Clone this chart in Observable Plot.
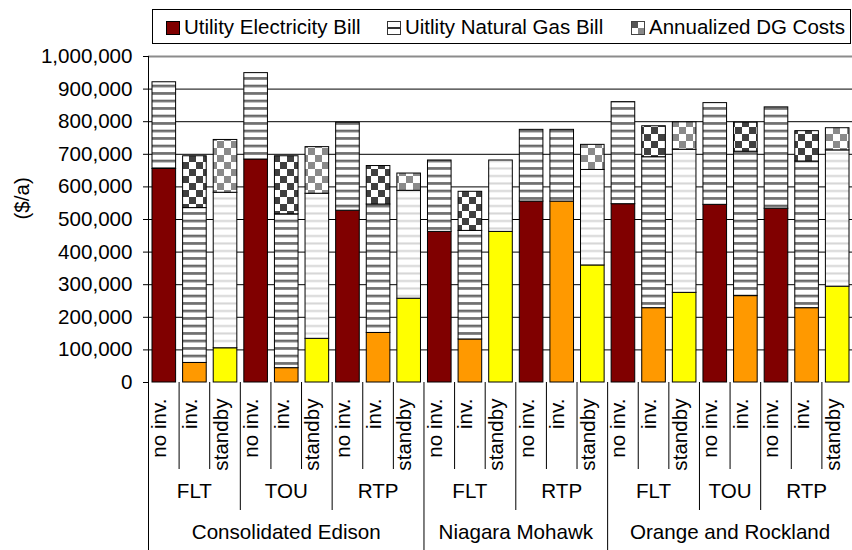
<!DOCTYPE html>
<html>
<head>
<meta charset="utf-8">
<script src="https://cdn.jsdelivr.net/npm/d3@7"></script>
<script src="https://cdn.jsdelivr.net/npm/@observablehq/plot@0.6"></script>
<style>
  html, body { margin: 0; padding: 0; background: #fff; }
  body { width: 852px; height: 550px; overflow: hidden; font-family: "Liberation Sans", Arial, sans-serif; color: #000; }
  #legend { position: relative; height: 50px; }
  #legend .box { position: absolute; left: 152px; top: 9px; width: 699px; height: 35px; box-sizing: border-box; border: 1px solid #000; }
  #legend .sw { position: absolute; top: 11px; display: block; }
  #legend .tx { position: absolute; top: 6.5px; font-size: 20.5px; line-height: 20.5px; white-space: nowrap; }
</style>
</head>
<body>
<svg width="0" height="0" style="position:absolute">
  <defs>
    <pattern id="gasDark" patternUnits="userSpaceOnUse" width="8" height="7.5">
      <rect width="8" height="7.5" fill="#fff"/>
      <rect y="5" width="8" height="1" fill="#111"/>
      <rect y="6" width="8" height="1.2" fill="#555"/>
    </pattern>
    <pattern id="gasLight" patternUnits="userSpaceOnUse" width="8" height="7.5">
      <rect width="8" height="7.5" fill="#fff"/>
      <rect y="5" width="8" height="2" fill="#d6d6d6"/>
    </pattern>
    <pattern id="dgDark" patternUnits="userSpaceOnUse" width="14" height="14">
      <rect width="14" height="14" fill="#fff"/>
      <rect width="7" height="7" fill="#404040"/>
      <rect x="7" y="7" width="7" height="7" fill="#404040"/>
    </pattern>
    <pattern id="dgLight" patternUnits="userSpaceOnUse" width="14" height="14">
      <rect width="14" height="14" fill="#fff"/>
      <rect width="7" height="7" fill="#8a8a8a"/>
      <rect x="7" y="7" width="7" height="7" fill="#8a8a8a"/>
    </pattern>
  </defs>
</svg>
<div id="legend">
  <div class="box">
    <svg class="sw" style="left:13px" width="14" height="14"><rect x="0.5" y="0.5" width="13" height="13" fill="#800000" stroke="#000"/></svg>
    <span class="tx" style="left:31px">Utility Electricity Bill</span>
    <svg class="sw" style="left:234px" width="14" height="14"><rect x="0.5" y="0.5" width="13" height="13" fill="#fff" stroke="#333"/><rect x="1" y="6" width="12" height="2" fill="#333"/></svg>
    <span class="tx" style="left:252px">Uitlity Natural Gas Bill</span>
    <svg class="sw" style="left:478px" width="14" height="14"><rect x="0.5" y="0.5" width="13" height="13" fill="#fff" stroke="#444"/><rect x="1" y="1" width="6" height="6" fill="#555"/><rect x="7" y="7" width="6" height="6" fill="#888"/></svg>
    <span class="tx" style="left:496px">Annualized DG Costs</span>
  </div>
</div>
<script>
// ---- data ----
const utilities = [
  "Consolidated Edison","Consolidated Edison","Consolidated Edison",
  "Consolidated Edison","Consolidated Edison","Consolidated Edison",
  "Consolidated Edison","Consolidated Edison","Consolidated Edison",
  "Niagara Mohawk","Niagara Mohawk","Niagara Mohawk",
  "Niagara Mohawk","Niagara Mohawk","Niagara Mohawk",
  "Orange and Rockland","Orange and Rockland","Orange and Rockland",
  "Orange and Rockland","Orange and Rockland",
  "Orange and Rockland","Orange and Rockland","Orange and Rockland"
];
const tariffs = [
  "FLT","FLT","FLT","TOU","TOU","TOU","RTP","RTP","RTP",
  "FLT","FLT","FLT","RTP","RTP","RTP",
  "FLT","FLT","FLT","TOU","TOU","RTP","RTP","RTP"
];
const options = [
  "no inv.","inv.","standby","no inv.","inv.","standby","no inv.","inv.","standby",
  "no inv.","inv.","standby","no inv.","inv.","standby",
  "no inv.","inv.","standby","no inv.","inv.","no inv.","inv.","standby"
];
const electricity = [
  655000, 60000, 105000, 684000, 44000, 134000, 527000, 152000, 257000,
  462000, 132000, 462000, 555000, 555000, 359000,
  547000, 228000, 275000, 545000, 265000, 533000, 228000, 294000
];
const naturalGas = [
  266000, 475000, 477000, 265000, 472000, 445000, 270000, 394000, 331000,
  219000, 333000, 219000, 220000, 220000, 293000,
  313000, 463000, 439000, 312000, 443000, 311000, 450000, 418000
];
const dgCosts = [
  0, 159000, 162000, 0, 178000, 143000, 0, 118000, 53000,
  0, 120000, 0, 0, 0, 77000,
  0, 95000, 84000, 0, 89000, 0, 93000, 68000
];
const yTicks = [0, 100000, 200000, 300000, 400000, 500000, 600000, 700000, 800000, 900000, 1000000];

// ---- styles ----
const elecFill = {"no inv.": "#800000", "inv.": "#FF9900", "standby": "#FFFF00"};
const gasFill = {"no inv.": "url(#gasDark)", "inv.": "url(#gasDark)", "standby": "url(#gasLight)"};
const dgFill = {"no inv.": "url(#dgDark)", "inv.": "url(#dgDark)", "standby": "url(#dgLight)"};
const dividerDepth = {1: 87, 2: 128, 3: 168};
const font = '"Liberation Sans", Arial, sans-serif';
const fs = 20.6;

// ---- derived tables ----
const n = options.length;
const bars = d3.range(n).map(i => ({i, utility: utilities[i], tariff: tariffs[i], option: options[i]}));
const segs = [];
for (const b of bars) {
  const e = electricity[b.i], g = naturalGas[b.i], c = dgCosts[b.i];
  segs.push({i: b.i, y1: 0, y2: e, fill: elecFill[b.option]});
  segs.push({i: b.i, y1: e, y2: e + g, fill: gasFill[b.option]});
  if (c > 0) segs.push({i: b.i, y1: e + g, y2: e + g + c, fill: dgFill[b.option]});
}
function runs(keyFn, labelFn) {
  const out = [];
  for (let i = 0; i < n; i++) {
    const k = keyFn(i);
    const last = out[out.length - 1];
    if (last && last.key === k) last.end = i + 1;
    else out.push({key: k, label: labelFn(i), start: i, end: i + 1});
  }
  return out;
}
const tariffRuns = runs(i => utilities[i] + "|" + tariffs[i], i => tariffs[i]);
const utilityRuns = runs(i => utilities[i], i => utilities[i]);
const dividers = d3.range(1, n + 1).map(b => ({
  x: b,
  level: (b === n || utilities[b] !== utilities[b - 1]) ? 3 : (tariffs[b] !== tariffs[b - 1] ? 2 : 1)
}));

const chart = Plot.plot({
  width: 852,
  height: 500,
  marginTop: 6,
  marginBottom: 168,
  marginLeft: 148,
  marginRight: 0,
  x: {type: "linear", domain: [0, n], axis: null},
  y: {domain: [0, 1000000], axis: null},
  color: {type: "identity"},
  style: {fontFamily: font, fontSize: fs + "px", color: "#000", background: "#fff", overflow: "visible"},
  marks: [
    Plot.gridY(yTicks.filter(v => v > 0 && v < 1000000), {stroke: "#000", strokeOpacity: 1}),
    Plot.ruleY([1000000], {stroke: "#8c8c8c", strokeWidth: 2}),
    Plot.rect(segs, {x1: "i", x2: d => d.i + 1, y1: "y1", y2: "y2", fill: "fill", stroke: "#000", strokeWidth: 1, insetLeft: 4, insetRight: 3}),
    Plot.axisY(yTicks, {tickFormat: d3.format(","), tickSize: 5, tickPadding: 11, fontSize: fs, label: null, stroke: "#000", fill: "#000"}),
    Plot.ruleX([0], {stroke: "#000", insetBottom: -dividerDepth[3]}),
    ...[1, 2, 3].map(level =>
      Plot.ruleX(dividers.filter(d => d.level === level), {x: "x", y1: 0, y2: 0, stroke: "#000", insetBottom: -dividerDepth[level]})
    ),
    Plot.text(bars, {x: d => d.i + 0.5, text: "option", frameAnchor: "bottom", rotate: -90, textAnchor: "end", dy: 16, dx: 2.5, fontSize: fs, fill: "#000"}),
    Plot.text(tariffRuns, {x: d => (d.start + d.end) / 2, text: "label", frameAnchor: "bottom", dy: 115.5, fontSize: fs, fill: "#000"}),
    Plot.text(utilityRuns, {x: d => (d.start + d.end) / 2, text: "label", frameAnchor: "bottom", dy: 156, fontSize: fs, fill: "#000"}),
    Plot.text(["($/a)"], {text: d => d, frameAnchor: "left", rotate: -90, dx: -126, fontSize: fs, fill: "#000"})
  ]
});
chart.style.display = "block";
document.body.appendChild(chart);
</script>
</body>
</html>
